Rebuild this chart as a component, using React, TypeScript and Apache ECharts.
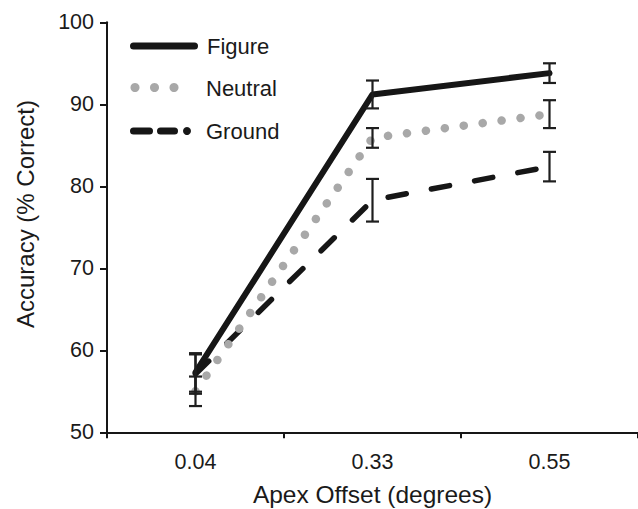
import React, { useEffect, useRef } from "react";
import * as echarts from "echarts";

const categories = ["0.04", "0.33", "0.55"];
const figureValues = [57.3, 91.2, 93.8];
const figureErrors = [2.35, 1.7, 1.2];
const neutralValues = [55.0, 85.9, 88.8];
const neutralErrors = [1.8, 1.2, 1.7];
const groundValues = [57.1, 78.3, 82.4];
const groundErrors = [2.4, 2.6, 1.8];
const yTicks = [50, 60, 70, 80, 90, 100];

const FONT = "'Liberation Sans', Arial, Helvetica, sans-serif";
const DARK = "#161616";
const GRAY = "#a8a8a8";

function errorData(values: number[], errs: number[]) {
  return values.map((v, i) => [i, v - errs[i], v + errs[i]]);
}

const renderErrorBar = (params: any, api: any) => {
  const x = api.value(0);
  const lo = api.coord([x, api.value(1)]);
  const hi = api.coord([x, api.value(2)]);
  const half = 6.5;
  const style = { stroke: "#1e1e1e", lineWidth: 2.2 };
  return {
    type: "group",
    children: [
      { type: "line", shape: { x1: lo[0], y1: lo[1], x2: hi[0], y2: hi[1] }, style },
      { type: "line", shape: { x1: lo[0] - half, y1: lo[1], x2: lo[0] + half, y2: lo[1] }, style },
      { type: "line", shape: { x1: hi[0] - half, y1: hi[1], x2: hi[0] + half, y2: hi[1] }, style },
    ],
  };
};

export default function App() {
  const ref = useRef<HTMLDivElement>(null);
  useEffect(() => {
    if (!ref.current) return;
    const chart = echarts.init(ref.current, undefined, { renderer: "svg" });
    const legendText = (text: string, x: number, y: number) => ({
      type: "text",
      x,
      y,
      style: {
        text,
        font: `22px ${FONT}`,
        fill: "#1a1a1a",
        textVerticalAlign: "middle",
        verticalAlign: "middle",
      },
    });
    chart.setOption({
      animation: false,
      backgroundColor: "#ffffff",
      grid: {
        left: 107,
        right: 0,
        top: 22.3,
        bottom: 76.7,
        containLabel: false,
        outerBoundsMode: "none",
      },
      xAxis: {
        type: "category",
        data: categories,
        boundaryGap: true,
        axisLine: { show: true, lineStyle: { color: DARK, width: 2 } },
        axisTick: { show: true, length: 6, inside: false, lineStyle: { color: DARK, width: 2 } },
        axisLabel: { color: "#1a1a1a", fontSize: 21.5, fontFamily: FONT, margin: 19 },
        name: "Apex Offset (degrees)",
        nameLocation: "middle",
        nameGap: 50,
        nameTextStyle: { color: "#1a1a1a", fontSize: 24.5, fontFamily: FONT },
        splitLine: { show: false },
      },
      yAxis: {
        type: "value",
        min: yTicks[0],
        max: yTicks[yTicks.length - 1],
        interval: 10,
        axisLine: { show: true, lineStyle: { color: DARK, width: 2 } },
        axisTick: { show: true, length: 7, inside: false, lineStyle: { color: DARK, width: 2 } },
        axisLabel: { color: "#1a1a1a", fontSize: 21.5, fontFamily: FONT, margin: 13 },
        splitLine: { show: false },
      },
      graphic: [
        {
          type: "text",
          x: 25,
          y: 214,
          rotation: Math.PI / 2,
          style: {
            text: "Accuracy (% Correct)",
            font: `24px ${FONT}`,
            fill: "#1a1a1a",
            align: "center",
            verticalAlign: "middle",
          },
        },
        { type: "line", shape: { x1: 133.5, y1: 46, x2: 194.5, y2: 46 }, style: { stroke: DARK, lineWidth: 7, lineCap: "round" } },
        { type: "circle", shape: { cx: 135, cy: 87.5, r: 4.5 }, style: { fill: GRAY } },
        { type: "circle", shape: { cx: 154.5, cy: 87.5, r: 4.5 }, style: { fill: GRAY } },
        { type: "circle", shape: { cx: 174, cy: 87.5, r: 4.5 }, style: { fill: GRAY } },
        { type: "line", shape: { x1: 133.5, y1: 131, x2: 149.5, y2: 131 }, style: { stroke: DARK, lineWidth: 7, lineCap: "round" } },
        { type: "line", shape: { x1: 160.5, y1: 131, x2: 174.5, y2: 131 }, style: { stroke: DARK, lineWidth: 7, lineCap: "round" } },
        { type: "circle", shape: { cx: 187, cy: 131, r: 4 }, style: { fill: DARK } },
        legendText("Figure", 207, 46),
        legendText("Neutral", 206, 88),
        legendText("Ground", 206, 131),
      ],
      series: [
        {
          name: "Ground",
          type: "line",
          data: groundValues,
          symbol: "none",
          lineStyle: { color: DARK, width: 5.5, type: [18.5, 25.5], cap: "round" },
          z: 3,
        },
        {
          name: "Neutral",
          type: "line",
          data: neutralValues,
          symbol: "none",
          lineStyle: { color: GRAY, width: 8.5, type: [0.1, 19], cap: "round" },
          z: 3,
        },
        {
          name: "Figure",
          type: "line",
          data: figureValues,
          symbol: "none",
          lineStyle: { color: DARK, width: 6, cap: "round", join: "round" },
          z: 4,
        },
        { type: "custom", renderItem: renderErrorBar, data: errorData(groundValues, groundErrors), z: 5 },
        { type: "custom", renderItem: renderErrorBar, data: errorData(neutralValues, neutralErrors), z: 5 },
        { type: "custom", renderItem: renderErrorBar, data: errorData(figureValues, figureErrors), z: 5 },
      ],
    });
    return () => chart.dispose();
  }, []);
  return (
    <div
      ref={ref}
      style={{ position: "fixed", left: 0, top: 0, width: 638, height: 509, background: "#fff" }}
    />
  );
}
